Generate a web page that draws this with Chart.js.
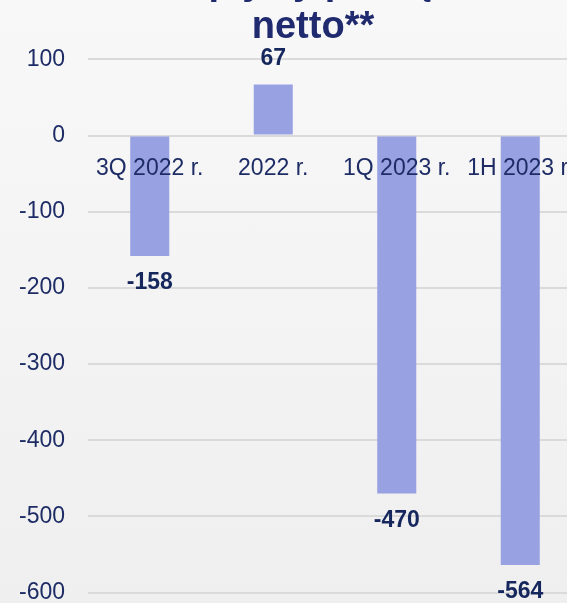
<!DOCTYPE html>
<html lang="pl">
<head>
<meta charset="utf-8">
<title>Przepływy pieniężne netto</title>
<script src="https://cdn.jsdelivr.net/npm/chart.js@4"></script>
<style>
  body { margin: 0; }
  .wrap {
    position: relative;
    width: 567px;
    height: 603px;
    overflow: hidden;
    background: linear-gradient(#f8f8f8, #efefef);
  }
  #chart { position: absolute; left: 0; top: -40px; }
</style>
</head>
<body>
<div class="wrap">
  <canvas id="chart" width="626" height="667"></canvas>
</div>
<script>
const tytul = ["Przepływy pieniężne", "netto**"];
const okresy = ["3Q 2022 r.", "2022 r.", "1Q 2023 r.", "1H 2023 r."];
const wartosci = [-158, 67, -470, -564];

const granatowy = "#1e2c66";

// etykiety wartości nad / pod słupkami
const etykietyDanych = {
  id: "etykietyDanych",
  afterDatasetsDraw(chart) {
    const ctx = chart.ctx;
    const meta = chart.getDatasetMeta(0);
    ctx.save();
    ctx.font = "bold 23px 'Liberation Sans'";
    ctx.fillStyle = "#15275c";
    ctx.textAlign = "center";
    ctx.textBaseline = "middle";
    meta.data.forEach((bar, i) => {
      const v = wartosci[i];
      const y = v >= 0 ? bar.y - 26 : bar.y + 27;
      ctx.fillText(String(v), bar.x, y);
    });
    ctx.restore();
  },
};

const ctx = document.getElementById("chart").getContext("2d");
new Chart(ctx, {
  type: "bar",
  data: {
    labels: okresy,
    datasets: [
      {
        data: wartosci,
        backgroundColor: "#98a1e1",
        barPercentage: 0.316,
        categoryPercentage: 1,
      },
    ],
  },
  options: {
    responsive: false,
    animation: false,
    devicePixelRatio: 1,
    layout: { padding: { left: 0, right: 0, top: 0, bottom: 11 } },
    plugins: {
      legend: { display: false },
      tooltip: { enabled: false },
      title: {
        display: true,
        text: tytul,
        color: "#202b6f",
        font: { family: "'Liberation Sans'", size: 38, weight: "bold", lineHeight: 1.15 },
        padding: { top: 2, bottom: 10 },
      },
    },
    scales: {
      x: {
        type: "category",
        position: { y: 0 },
        grid: { display: false },
        border: { display: false },
        ticks: {
          z: 1,
          color: granatowy,
          font: { family: "'Liberation Sans'", size: 23 },
          padding: 11,
          maxRotation: 0,
          autoSkip: false,
        },
        afterFit: (s) => { s.height = 0; },
      },
      y: {
        min: -600,
        max: 100,
        border: { display: false },
        grid: { color: "#dadada", lineWidth: 2, drawTicks: false },
        ticks: {
          stepSize: 100,
          color: granatowy,
          padding: 23,
          font: { family: "'Liberation Sans'", size: 23, lineHeight: 1 },
        },
        afterFit: (s) => { s.width = 88; },
      },
      y2: {
        position: "right",
        grid: { display: false },
        border: { display: false },
        ticks: { display: false },
        afterFit: (s) => { s.width = 44; },
      },
    },
  },
  plugins: [etykietyDanych],
});
</script>
</body>
</html>
